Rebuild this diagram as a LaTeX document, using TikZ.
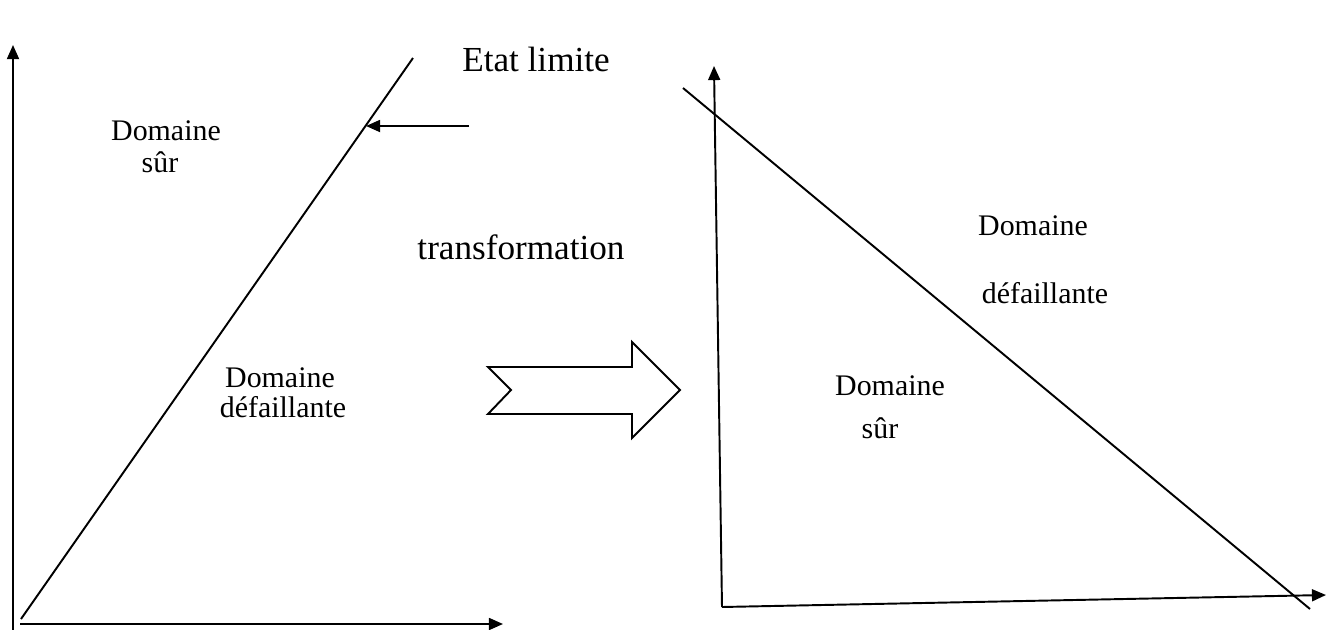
\documentclass[tikz,border=0pt]{standalone}
\usepackage{fontspec}
\setmainfont{Liberation Serif}
\usetikzlibrary{arrows.meta}

\begin{document}
\begin{tikzpicture}[x=0.01cm, y=-0.01cm, line width=0.55pt,
  every node/.style={inner sep=0pt},
  axis/.style={-{Triangle[length=4pt, width=3.4pt]}},
  small/.style={font=\fontsize{8.5}{10}\selectfont, anchor=base},
  large/.style={font=\fontsize{10}{12}\selectfont, anchor=base}]
\useasboundingbox (0,0) rectangle (1326,630);
% left diagram
\coordinate (vL0) at (13,630);
\coordinate (vL1) at (13,45);
\coordinate (hL0) at (20,624);
\coordinate (hL1) at (503,624);
\coordinate (gL0) at (21,619);
\coordinate (gL1) at (413,58);
\coordinate (lim0) at (469,126);
\coordinate (lim1) at (366,126);
\path [axis]
     (vL0) edge (vL1)
     (hL0) edge (hL1)
     (lim0) edge (lim1);
\draw (gL0) -- (gL1);
\node (etat) [large] at (536,71) {Etat limite};
\node (domS1) [small] at (166,140) {Domaine};
\node (surS1) [small] at (160,172) {sûr};
\node (domD1) [small] at (280,387) {Domaine};
\node (defD1) [small] at (283,417) {défaillante};
% transformation
\node (trans) [large] at (521,259) {transformation};
\draw (488,367) -- (632,367) -- (632,342) -- (680,390) -- (632,438)
      -- (632,414) -- (488,414) -- (511,390) -- cycle;
% right diagram
\coordinate (vR0) at (722,607);
\coordinate (vR1) at (714,66);
\coordinate (hR1) at (1326,595);
\coordinate (gR0) at (683,88);
\coordinate (gR1) at (1310,609);
\path [axis]
     (vR0) edge (vR1)
     (vR0) edge (hR1);
\draw (gR0) -- (gR1);
\node (domD2) [small] at (1033,235) {Domaine};
\node (defD2) [small] at (1045,303) {défaillante};
\node (domS2) [small] at (890,395) {Domaine};
\node (surS2) [small] at (880,438) {sûr};
\end{tikzpicture}
\end{document}
